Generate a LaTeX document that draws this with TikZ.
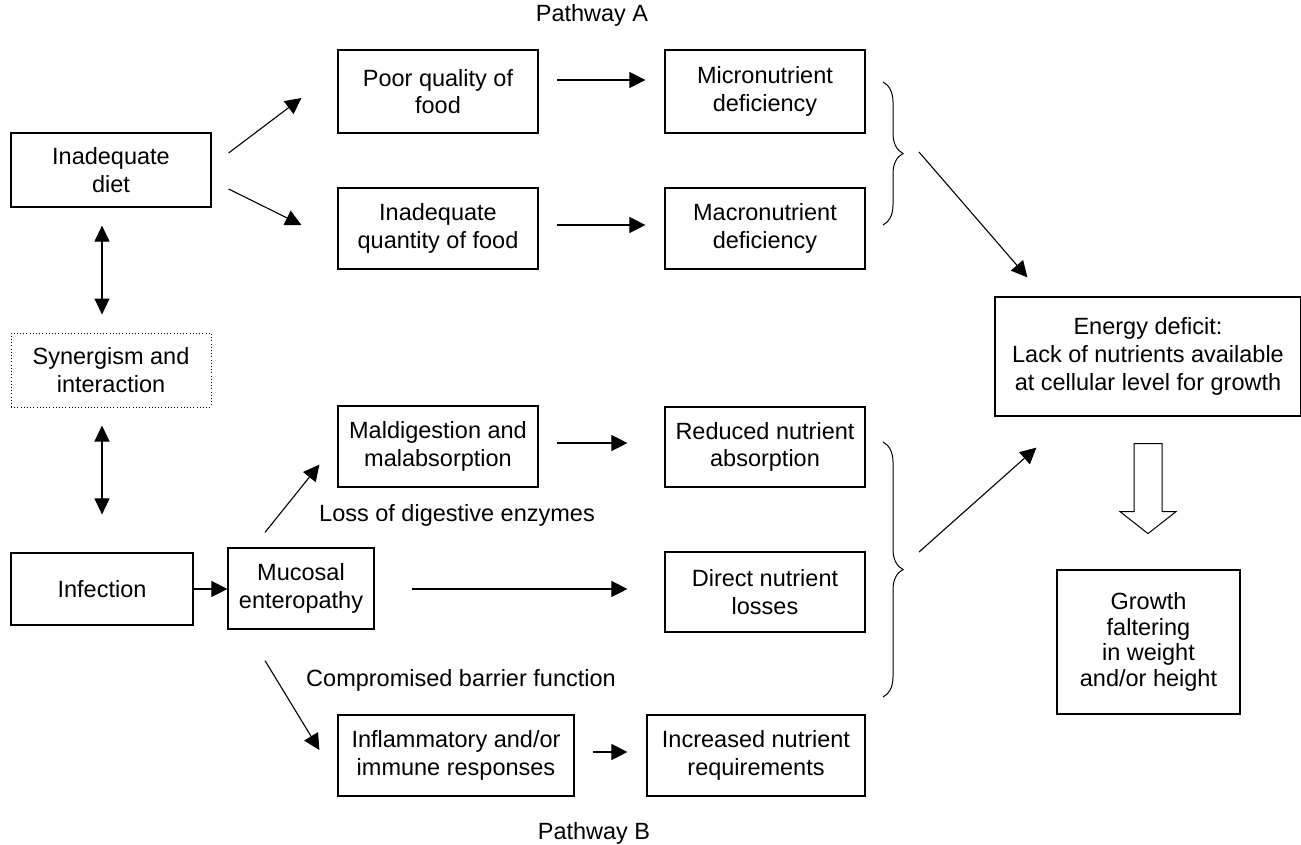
\documentclass[tikz,border=0pt]{standalone}
\usepackage{fontspec}
\setmainfont{Liberation Sans}
\usetikzlibrary{arrows.meta,decorations.pathreplacing,calc}
\begin{document}
\begin{tikzpicture}[x=1pt,y=-1pt,
  box/.style={draw,line width=1.2pt,inner sep=0pt,align=center,font=\fontsize{23.5}{27.7}\selectfont},
  lbl/.style={inner sep=0pt,font=\fontsize{23.5}{27.7}\selectfont},
  arr/.style={line width=1.1pt,-{Triangle[length=16pt,width=16pt]}},
  darr/.style={line width=1.1pt,{Triangle[length=16pt,width=15pt]}-{Triangle[length=16pt,width=15pt]}},
  brc/.style={line width=1pt,decorate,decoration={brace,amplitude=20pt}}]
\useasboundingbox (0,0) rectangle (1301,844);

% left column
\node[box,minimum width=200pt,minimum height=74pt] (diet) at (111,170) {Inadequate\\diet};
\node[box,dash pattern=on 1pt off 2.2pt,line width=1pt,minimum width=200pt,minimum height=74pt] (syn) at (111,370) {Synergism and\\interaction};
\node[box,minimum width=182pt,minimum height=72pt] (inf) at (102,589) {Infection};
\node[box,minimum width=146pt,minimum height=81pt] (muc) at (301,588.5) {Mucosal\\enteropathy};

% middle column
\node[box,minimum width=200pt,minimum height=83pt] (poor) at (438,91.5) {Poor quality of\\food};
\node[box,minimum width=200pt,minimum height=81pt] (quant) at (438,228.5) {Inadequate\\quantity of food};
\node[box,minimum width=200pt,minimum height=81pt] (mald) at (438,446.5) {Maldigestion and\\malabsorption};
\node[box,minimum width=236pt,minimum height=81pt] (infl) at (456,755.5) {Inflammatory and/or\\immune responses};

% right column
\node[box,minimum width=200pt,minimum height=83pt] (micro) at (765,91.5) {Micronutrient\\deficiency};
\node[box,minimum width=200pt,minimum height=81pt] (macro) at (765,228.5) {Macronutrient\\deficiency};
\node[box,minimum width=200pt,minimum height=80pt] (red) at (765,447) {Reduced nutrient\\absorption};
\node[box,minimum width=200pt,minimum height=80pt] (direct) at (765,592) {Direct nutrient\\losses};
\node[box,minimum width=218pt,minimum height=81pt] (incr) at (756,755.5) {Increased nutrient\\requirements};

% far right
\node[box,minimum width=306pt,minimum height=119pt] (energy) at (1148,356.5) {Energy deficit:\\Lack of nutrients available\\at cellular level for growth};
\node[box,minimum width=183pt,minimum height=144pt,font=\fontsize{23.5}{25.8}\selectfont] (growth) at (1148.5,642) {Growth\\faltering\\in weight\\and/or height};

% labels
\node[lbl] (pa) at (592,15) {Pathway A};
\node[lbl] (pb) at (594,833) {Pathway B};
\node[lbl] (loss) at (457,515) {Loss of digestive enzymes};
\node[lbl] (barrier) at (461,680) {Compromised barrier function};

% arrows
\draw[arr] ([shift={(17,-17)}]diet.east) -- ([shift={(-36,6.5)}]poor.west);
\draw[arr] ([shift={(17,19)}]diet.east) -- ([shift={(-36,-3.5)}]quant.west);
\draw[arr] ([shift={(18,-11.5)}]poor.east) -- ([shift={(-19,-11.5)}]micro.west);
\draw[arr] ([shift={(18,-3.5)}]quant.east) -- ([shift={(-19,-3.5)}]macro.west);
\draw[arr] ([shift={(18,-3.5)}]mald.east) -- ([shift={(-37,-4)}]red.west);
\draw[arr] ([shift={(37,0.5)}]muc.east) -- ([shift={(-37,-3)}]direct.west);
\draw[arr] ([shift={(18,-3.5)}]infl.east) -- ([shift={(-19,-3.5)}]incr.west);
\draw[arr] (inf.east) -- (inf.east -| muc.west);
\draw[arr] ([shift={(-36,-15)}]muc.north) -- ([shift={(-18,-23)}]mald.south west);
\draw[arr] ([shift={(-36,31)}]muc.south) -- ([shift={(-18,-5.5)}]infl.west);
\draw[darr] ([shift={(-9,18)}]diet.south) -- ([shift={(-9,-18)}]syn.north);
\draw[darr] ([shift={(-9,18)}]syn.south) -- ([shift={(0,-38)}]inf.north);

% braces
\draw[brc] (883,82) -- (883,225);
\coordinate (b1) at (903,152);
\draw[brc] (883,442) -- (883,697);
\coordinate (b2) at (903,570);
\draw[arr] ([xshift=16pt]b1) -- ([shift={(33,-19)}]energy.north west);
\draw[arr] ([shift={(16,-18)}]b2) -- ([shift={(42,31)}]energy.south west);

% open arrow
\draw[line width=1pt,line join=miter]
  ($(energy.south)+(-14,27)$) -- ($(energy.south)+(14,27)$) -- ($(energy.south)+(14,95)$)
  -- ($(energy.south)+(28,95)$) -- ($(energy.south)+(0,117)$) -- ($(energy.south)+(-28,95)$)
  -- ($(energy.south)+(-14,95)$) -- cycle;
\end{tikzpicture}
\end{document}
